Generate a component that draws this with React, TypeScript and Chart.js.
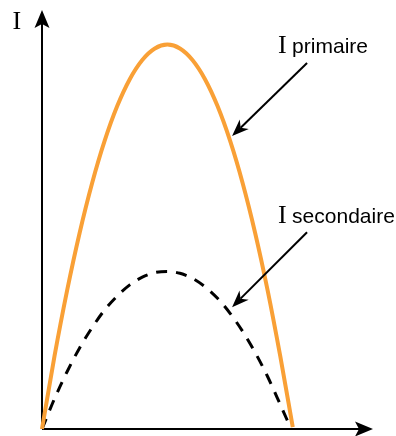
import React, { useEffect, useRef } from 'react';
import { Chart, registerables } from 'chart.js';

Chart.register(...registerables);

// Values (arbitrary units)
const xPrimaire = [0, 0.5, 1, 1.5, 2, 2.5, 3, 3.5, 4, 4.5, 5, 5.5, 6, 6.5, 7, 7.5, 8, 8.5, 9, 9.5, 10];
const yPrimaire = [0, 1.9, 3.6, 5.1, 6.4, 7.5, 8.4, 9.1, 9.6, 9.9, 10, 9.9, 9.6, 9.1, 8.4, 7.5, 6.4, 5.1, 3.6, 1.9, 0.05];
const xSecondaire = [0, 0.5, 1, 1.5, 2, 2.5, 3, 3.5, 4, 4.5, 5, 5.5, 6, 6.5, 7, 7.5, 8, 8.5, 9, 9.5, 9.9];
const ySecondaire = [0, 0.79, 1.49, 2.11, 2.64, 3.1, 3.46, 3.75, 3.95, 4.07, 4.1, 4.05, 3.92, 3.7, 3.4, 3.01, 2.54, 1.99, 1.36, 0.64, 0.05];

const axisLabel = 'I';
const seriesSymbol = 'I';
const primaireLabel = 'primaire';
const secondaireLabel = 'secondaire';

// annotation anchors in data units
const primaireText = { x: 9.41, y: 9.78 };
const primaireArrow = { x1: 10.57, y1: 9.52, x2: 7.58, y2: 7.62 };
const secondaireText = { x: 9.41, y: 5.36 };
const secondaireArrow = { x1: 10.57, y1: 5.12, x2: 7.58, y2: 3.17 };

function arrowHead(ctx: CanvasRenderingContext2D, x1: number, y1: number, x2: number, y2: number, len: number, half: number, notch: number) {
  const a = Math.atan2(y2 - y1, x2 - x1);
  const c = Math.cos(a), s = Math.sin(a);
  const bx = x2 - c * len, by = y2 - s * len;
  const nx = x2 - c * notch, ny = y2 - s * notch;
  ctx.beginPath();
  ctx.moveTo(x2, y2);
  ctx.lineTo(bx - s * half, by + c * half);
  ctx.lineTo(nx, ny);
  ctx.lineTo(bx + s * half, by - c * half);
  ctx.closePath();
  ctx.fill();
}

const decorPlugin = {
  id: 'decor',
  beforeDatasetsDraw(chart: any) {
    const { ctx, chartArea } = chart;
    const { left, right, top, bottom } = chartArea;
    ctx.save();
    ctx.strokeStyle = '#000';
    ctx.fillStyle = '#000';
    ctx.lineWidth = 2;
    ctx.beginPath();
    ctx.moveTo(left, bottom);
    ctx.lineTo(left, top + 12);
    ctx.moveTo(left, bottom);
    ctx.lineTo(right - 12, bottom);
    ctx.stroke();
    arrowHead(ctx, left, bottom, left, top, 18, 7.5, 14);
    arrowHead(ctx, left, bottom, right, bottom, 18, 7.5, 14);
    ctx.font = '26px "Liberation Serif", "Times New Roman", serif';
    ctx.textBaseline = 'alphabetic';
    ctx.fillText(axisLabel, left - 29.5, top + 19);
    ctx.restore();
  },
  afterDatasetsDraw(chart: any) {
    const { ctx, scales } = chart;
    const xs = scales.x, ys = scales.y;
    ctx.save();
    ctx.fillStyle = '#000';
    ctx.strokeStyle = '#000';
    const drawLabel = (p: { x: number; y: number }, txt: string) => {
      const px = xs.getPixelForValue(p.x), py = ys.getPixelForValue(p.y);
      ctx.font = '26px "Liberation Serif", "Times New Roman", serif';
      ctx.fillText(seriesSymbol, px, py);
      const w = ctx.measureText(seriesSymbol).width;
      ctx.font = '21px "Liberation Sans", Arial, sans-serif';
      ctx.fillText(txt, px + w + 5.5, py);
    };
    const drawArrow = (a: { x1: number; y1: number; x2: number; y2: number }) => {
      const x1 = xs.getPixelForValue(a.x1), y1 = ys.getPixelForValue(a.y1);
      const x2 = xs.getPixelForValue(a.x2), y2 = ys.getPixelForValue(a.y2);
      const ang = Math.atan2(y2 - y1, x2 - x1);
      ctx.lineWidth = 2;
      ctx.beginPath();
      ctx.moveTo(x1, y1);
      ctx.lineTo(x2 - Math.cos(ang) * 12, y2 - Math.sin(ang) * 12);
      ctx.stroke();
      arrowHead(ctx, x1, y1, x2, y2, 17, 6.5, 12);
    };
    drawLabel(primaireText, primaireLabel);
    drawLabel(secondaireText, secondaireLabel);
    drawArrow(primaireArrow);
    drawArrow(secondaireArrow);
    ctx.restore();
  },
};

export default function App() {
  const ref = useRef<HTMLCanvasElement | null>(null);
  useEffect(() => {
    if (!ref.current) return;
    const chart = new Chart(ref.current, {
      type: 'line',
      data: {
        datasets: [
          {
            label: 'I primaire',
            data: xPrimaire.map((x, i) => ({ x, y: yPrimaire[i] })),
            borderColor: '#F9A036',
            borderWidth: 4,
            pointRadius: 0,
            tension: 0.4,
            cubicInterpolationMode: 'monotone',
            fill: false,
            clip: false as any,
          },
          {
            label: 'I secondaire',
            data: xSecondaire.map((x, i) => ({ x, y: ySecondaire[i] })),
            borderColor: '#000',
            borderWidth: 3,
            borderDash: [11, 9],
            pointRadius: 0,
            tension: 0.4,
            cubicInterpolationMode: 'monotone',
            fill: false,
            clip: false as any,
          },
        ],
      },
      options: {
        animation: false,
        responsive: true,
        maintainAspectRatio: false,
        layout: { padding: { left: 42, top: 10, right: 23, bottom: 7 } },
        plugins: { legend: { display: false }, tooltip: { enabled: false } },
        scales: {
          x: { type: 'linear', min: 0, max: 13.2, display: false },
          y: { type: 'linear', min: 0, max: 10.9, display: false },
        },
      },
      plugins: [decorPlugin],
    } as any);
    return () => chart.destroy();
  }, []);
  return (
    <div style={{ position: 'absolute', left: 0, top: 0, width: 396, height: 436, background: '#fff' }}>
      <canvas ref={ref} />
    </div>
  );
}
